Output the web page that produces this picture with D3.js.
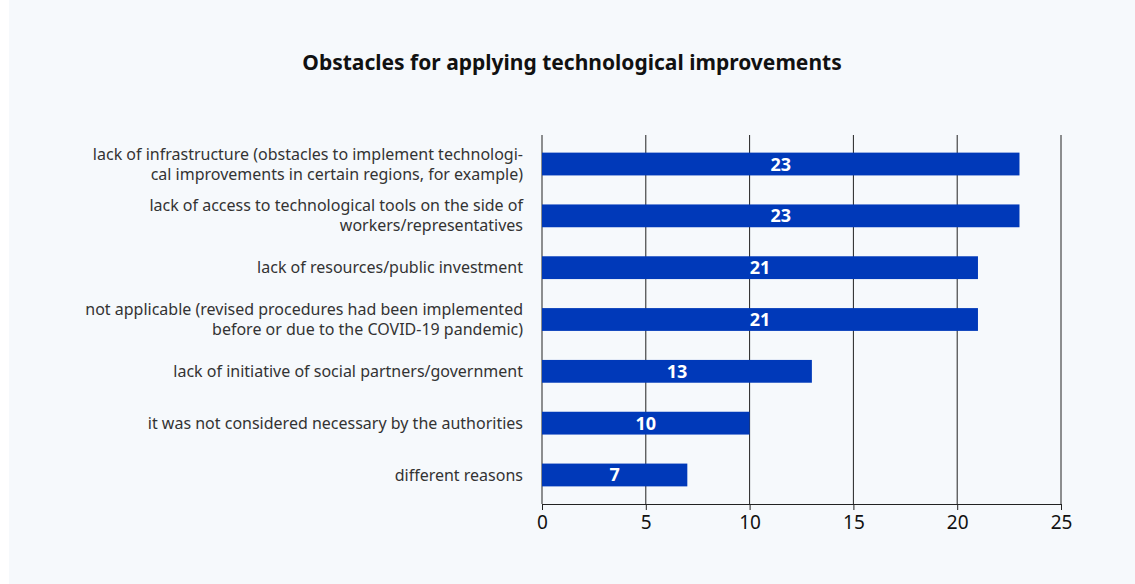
<!DOCTYPE html>
<html>
<head>
<meta charset="utf-8">
<script src="https://cdn.jsdelivr.net/npm/d3@7/dist/d3.min.js"></script>
<style>
  html, body { margin: 0; padding: 0; background: #ffffff; }
  svg { display: block; font-family: "Noto Sans", "Open Sans", sans-serif; }
</style>
</head>
<body>
<svg id="chart" width="1135" height="584"></svg>
<script>
// Survey answers: obstacles named by respondents
const categories = [
  "lack of infrastructure (obstacles to implement technologi-\ncal improvements in certain regions, for example)",
  "lack of access to technological tools on the side of\nworkers/representatives",
  "lack of resources/public investment",
  "not applicable (revised procedures had been implemented\nbefore or due to the COVID-19 pandemic)",
  "lack of initiative of social partners/government",
  "it was not considered necessary by the authorities",
  "different reasons"
];
const values = [23, 23, 21, 21, 13, 10, 7];
const xTicks = [0, 5, 10, 15, 20, 25];
const title = "Obstacles for applying technological improvements";

const data = categories.map((c, i) => ({ label: c, value: values[i] }));

const W = 1135, H = 584;
const plot = { left: 542, right: 1061, top: 135, bottom: 504 };

const svg = d3.select("#chart");

// light panel behind the chart
svg.append("rect")
  .attr("x", 9).attr("y", 0)
  .attr("width", W - 9).attr("height", H)
  .attr("fill", "#f6f9fc");

svg.append("text")
  .attr("x", (9 + W) / 2).attr("y", 70)
  .attr("text-anchor", "middle")
  .attr("font-size", 21).attr("font-weight", 700)
  .attr("fill", "#111")
  .text(title);

const x = d3.scaleLinear().domain([0, 25]).range([plot.left, plot.right]);
const y = d3.scaleBand()
  .domain(categories)
  .range([plot.top, plot.bottom])
  .paddingInner(0.56)
  .paddingOuter(0.34);

// vertical grid lines
svg.append("g")
  .selectAll("line")
  .data(xTicks)
  .join("line")
  .attr("x1", d => x(d)).attr("x2", d => x(d))
  .attr("y1", plot.top).attr("y2", plot.bottom)
  .attr("stroke", "#222").attr("stroke-width", 1);

// bars
svg.append("g")
  .selectAll("rect")
  .data(data)
  .join("rect")
  .attr("x", x(0))
  .attr("y", d => y(d.label))
  .attr("width", d => x(d.value) - x(0))
  .attr("height", y.bandwidth())
  .attr("fill", "#0039b9");

// value labels inside bars
svg.append("g")
  .selectAll("text")
  .data(data)
  .join("text")
  .attr("x", d => x(d.value / 2))
  .attr("y", d => y(d.label) + y.bandwidth() / 2)
  .attr("dy", "0.36em")
  .attr("text-anchor", "middle")
  .attr("font-size", 18).attr("font-weight", 700)
  .attr("fill", "#ffffff")
  .text(d => d.value);

// category labels, wrapped over one or two lines
const lineH = 20;
const catG = svg.append("g")
  .selectAll("text")
  .data(data)
  .join("text")
  .attr("text-anchor", "end")
  .attr("font-size", 16)
  .attr("fill", "#333");
catG.each(function (d) {
  const lines = d.label.split("\n");
  const cy = y(d.label) + y.bandwidth() / 2;
  const t = d3.select(this);
  lines.forEach((ln, i) => {
    t.append("tspan")
      .attr("x", plot.left - 19)
      .attr("y", cy + (i - (lines.length - 1) / 2) * lineH)
      .attr("dy", "0.35em")
      .text(ln);
  });
});

// bottom axis
const xAxis = d3.axisBottom(x).tickValues(xTicks).tickSize(6).tickPadding(6);
const ax = svg.append("g")
  .attr("transform", `translate(0,${plot.bottom})`)
  .call(xAxis);
ax.select(".domain").attr("stroke", "#222");
ax.selectAll(".tick line").attr("stroke", "#222");
ax.selectAll(".tick text")
  .attr("font-family", "\"Noto Sans\", sans-serif")
  .attr("font-size", 19)
  .attr("fill", "#111");
</script>
</body>
</html>
